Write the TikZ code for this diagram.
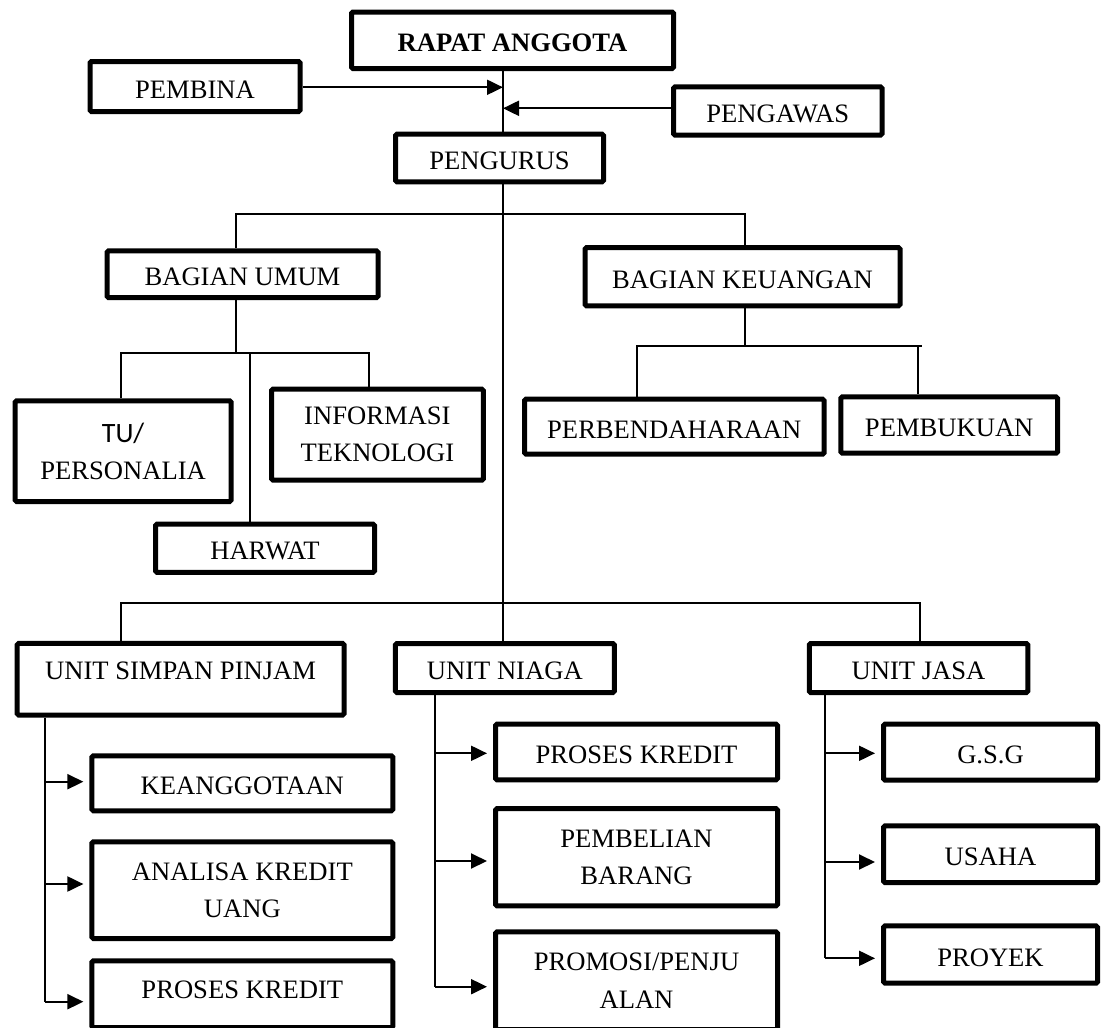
\documentclass[tikz,border=0pt]{standalone}
\usepackage{fontspec}
\setmainfont{Liberation Serif}
\newfontfamily\calibri{Carlito}
\usetikzlibrary{arrows.meta}
\begin{document}
\begin{tikzpicture}[x=1pt,y=-1pt,
  box/.style={draw, line width=5pt, rounded corners=1.5pt, inner sep=0pt, align=center, font=\fontsize{26.6}{37}\selectfont},
  one/.style={box, text height=23pt, text depth=0pt},
  conn/.style={line width=2pt},
  arr/.style={line width=2pt, -{Triangle[length=16pt,width=15pt]}},
  arrb/.style={arr, shorten >=6pt},
]
\useasboundingbox (0,0) rectangle (1101,1028);

% top level
\node[one, minimum width=322pt, minimum height=56.5pt] (rapat) at (512.5,40.25) {\bfseries RAPAT ANGGOTA};
\node[one, minimum width=210pt, minimum height=50pt] (pembina) at (195,86.5) {PEMBINA};
\node[one, minimum width=208.5pt, minimum height=48.4pt] (pengawas) at (777.75,111) {PENGAWAS};
\node[one, minimum width=208pt, minimum height=47.6pt] (pengurus) at (499.5,158) {PENGURUS};

% bagian
\node[one, minimum width=271pt, minimum height=46.7pt] (umum) at (242.5,274.2) {BAGIAN UMUM};
\node[one, minimum width=315pt, minimum height=58.3pt] (keu) at (742.5,276.7) {BAGIAN KEUANGAN};

\node[box, minimum width=216pt, minimum height=100.7pt] (tu) at (123.1,451.2) {{\calibri\fontsize{28}{38}\selectfont TU/}\\PERSONALIA};
\node[one, minimum width=219pt, minimum height=48.3pt] (harwat) at (265,548.3) {HARWAT};
\node[box, minimum width=211.8pt, minimum height=91pt] (info) at (377.4,434.7) {INFORMASI\\TEKNOLOGI};

\node[one, minimum width=299.6pt, minimum height=55pt] (perb) at (674.3,426.7) {PERBENDAHARAAN};
\node[one, minimum width=216.6pt, minimum height=56.4pt] (pembuk) at (949.2,425) {PEMBUKUAN};

% units
\node[box, minimum width=326.8pt, minimum height=71.7pt, text depth=18pt] (usp) at (180.6,679.3) {UNIT SIMPAN PINJAM};
\node[one, minimum width=219pt, minimum height=49pt] (niaga) at (504.8,668) {UNIT NIAGA};
\node[one, minimum width=218.5pt, minimum height=49pt] (jasa) at (918.5,668) {UNIT JASA};

\node[one, minimum width=300.9pt, minimum height=55pt] (keang) at (242.35,783.3) {KEANGGOTAAN};
\node[box, minimum width=300.9pt, minimum height=96.7pt] (analisa) at (242.35,890.2) {ANALISA KREDIT\\UANG};
\node[box, minimum width=300.9pt, minimum height=66.7pt, text depth=9pt] (proses1) at (242.35,994.2) {PROSES KREDIT};

\node[one, minimum width=282pt, minimum height=55.6pt] (proses2) at (636.5,752) {PROSES KREDIT};
\node[box, minimum width=282pt, minimum height=97.3pt] (beli) at (636.5,857.2) {PEMBELIAN\\BARANG};
\node[box, minimum width=282pt, minimum height=97.7pt, font=\fontsize{26.6}{38.5}\selectfont] (promosi) at (636.5,980.7) {PROMOSI/PENJU\\ALAN};

\node[one, minimum width=214pt, minimum height=56pt] (gsg) at (990.5,752.2) {G.S.G};
\node[one, minimum width=214pt, minimum height=56.7pt] (usaha) at (990.5,854.2) {USAHA};
\node[one, minimum width=214pt, minimum height=57.4pt] (proyek) at (990.5,954.5) {PROYEK};

% trunk
\coordinate (tk) at (503,0);
\draw[conn] (rapat.south -| tk) -- (pengurus.north -| tk);
\draw[conn] (pengurus.south -| tk) -- (niaga.north -| tk);

\coordinate (pb) at (503,87.3);
\draw[arr] (pembina.east |- pb) -- (pb);
\coordinate (pw) at (503,108.3);
\draw[arr] (pengawas.west |- pw) -- (pw);

% bagian branch
\coordinate (h1l) at (236,214);
\coordinate (h1r) at (745,214);
\draw[conn] (umum.north -| h1l) -- (h1l) -- (h1r) -- (keu.north -| h1r);

\coordinate (u0) at (236,353.3);
\coordinate (ul) at (121,353.3);
\coordinate (ur) at (369,353.3);
\coordinate (uh) at (249.7,353.3);
\draw[conn] (umum.south -| u0) -- (u0);
\draw[conn] (tu.north -| ul) -- (ul) -- (ur) -- (info.north -| ur);
\draw[conn] (uh) -- (harwat.north -| uh);

\coordinate (k0) at (745,345.7);
\coordinate (kl) at (637,345.7);
\coordinate (kr) at (921.6,345.7);
\coordinate (kp) at (917.8,345.7);
\draw[conn] (keu.south -| k0) -- (k0);
\draw[conn] (perb.north -| kl) -- (kl) -- (kr);
\draw[conn] (kp) -- (pembuk.north -| kp);

% unit branch
\coordinate (nl) at (121,603);
\coordinate (nr) at (920,603);
\draw[conn] (usp.north -| nl) -- (nl) -- (nr) -- (jasa.north -| nr);

% simpan pinjam
\coordinate (s1) at (44.5,781.7);
\coordinate (s2) at (44.5,884);
\coordinate (s3) at (44.5,1001.7);
\draw[conn] (usp.south -| s1) -- (s3);
\draw[arrb] (s1) -- (s1 -| keang.west);
\draw[arrb] (s2) -- (s2 -| analisa.west);
\draw[arrb] (s3) -- (s3 -| proses1.west);

% niaga
\coordinate (n1) at (434.5,753.3);
\coordinate (n2) at (434.5,861);
\coordinate (n3) at (434.5,986.7);
\draw[conn] (niaga.south -| n1) -- (n3);
\draw[arrb] (n1) -- (n1 -| proses2.west);
\draw[arrb] (n2) -- (n2 -| beli.west);
\draw[arrb] (n3) -- (n3 -| promosi.west);

% jasa
\coordinate (j1) at (824.7,753.3);
\coordinate (j2) at (824.7,862);
\coordinate (j3) at (824.7,958.3);
\draw[conn] (jasa.south -| j1) -- (j3);
\draw[arrb] (j1) -- (j1 -| gsg.west);
\draw[arrb] (j2) -- (j2 -| usaha.west);
\draw[arrb] (j3) -- (j3 -| proyek.west);
\end{tikzpicture}
\end{document}
